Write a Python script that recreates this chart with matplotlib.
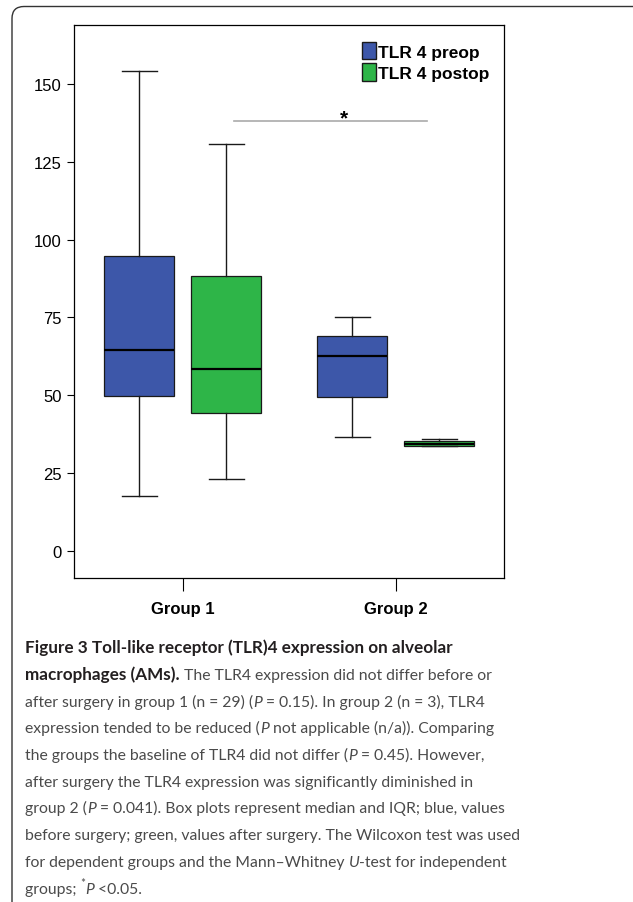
import matplotlib
matplotlib.use('Agg')
import matplotlib.pyplot as plt
from matplotlib.patches import Patch, FancyBboxPatch

# box statistics
groups = ['Group 1', 'Group 2']
preop_med = [64.6, 62.6]
preop_q1 = [49.8, 49.5]
preop_q3 = [94.7, 68.9]
preop_lo = [17.7, 36.4]
preop_hi = [154.1, 75.2]
postop_med = [58.3, 34.2]
postop_q1 = [44.2, 33.6]
postop_q3 = [88.3, 35.1]
postop_lo = [23.1, 33.6]
postop_hi = [130.7, 36.0]
yticks = [0, 25, 50, 75, 100, 125, 150]
sig_x = [1.241, 2.148]
sig_y = 138.2

blue = '#3d57a9'
green = '#2eb548'

caption = [
    [("Figure 3 Toll-like receptor (TLR)4 expression on alveolar", 'b')],
    [("macrophages (AMs).", 'b'), (" The TLR4 expression did not differ before or", 'r')],
    [("after surgery in group 1 (n = 29) (", 'r'), ("P", 'i'), (" = 0.15). In group 2 (n = 3), TLR4", 'r')],
    [("expression tended to be reduced (", 'r'), ("P", 'i'), (" not applicable (n/a)). Comparing", 'r')],
    [("the groups the baseline of TLR4 did not differ (", 'r'), ("P", 'i'), (" = 0.45). However,", 'r')],
    [("after surgery the TLR4 expression was significantly diminished in", 'r')],
    [("group 2 (", 'r'), ("P", 'i'), (" = 0.041). Box plots represent median and IQR; blue, values", 'r')],
    [("before surgery; green, values after surgery. The Wilcoxon test was used", 'r')],
    [("for dependent groups and the Mann\u2013Whitney ", 'r'), ("U", 'i'), ("-test for independent", 'r')],
    [("groups; ", 'r'), ("*", 's'), ("P", 'i'), (" <0.05.", 'r')],
]

plt.rcParams['font.family'] = ['Liberation Sans', 'DejaVu Sans']

W, H = 633, 903
fig = plt.figure(figsize=(W / 100, H / 100), dpi=100)

# rounded frame around figure + caption (runs off right and bottom)
frame = FancyBboxPatch((0.12, -0.5), 8.0, H / 100 - 0.075 + 0.5,
                       boxstyle='round,pad=0,rounding_size=0.12',
                       transform=fig.dpi_scale_trans, fill=False,
                       edgecolor='#333333', linewidth=1.0)
fig.patches.append(frame)

ax = fig.add_axes([74 / W, 1 - 579 / H, 430 / W, 553 / H])

off = 0.204
stats_pre = [dict(med=preop_med[i], q1=preop_q1[i], q3=preop_q3[i],
                  whislo=preop_lo[i], whishi=preop_hi[i], fliers=[])
             for i in range(len(groups))]
stats_post = [dict(med=postop_med[i], q1=postop_q1[i], q3=postop_q3[i],
                   whislo=postop_lo[i], whishi=postop_hi[i], fliers=[])
              for i in range(len(groups))]

common = dict(widths=0.329, capwidths=0.163, patch_artist=True, showfliers=False,
              medianprops=dict(color='black', linewidth=1.6),
              whiskerprops=dict(color='#1a1a1a', linewidth=1.0),
              capprops=dict(color='#1a1a1a', linewidth=1.0))
ax.bxp(stats_pre, positions=[i + 1 - off for i in range(len(groups))],
       boxprops=dict(facecolor=blue, edgecolor='#1a1a1a', linewidth=0.9), **common)
ax.bxp(stats_post, positions=[i + 1 + off for i in range(len(groups))],
       boxprops=dict(facecolor=green, edgecolor='#1a1a1a', linewidth=0.9), **common)

ax.plot(sig_x, [sig_y, sig_y], color='#aaaaaa', linewidth=1.2)
ax.text(1.759, sig_y - 2.0, '*', ha='center', va='bottom', fontsize=15, fontweight='bold')

ax.set_xlim(0.490, 2.508)
ax.set_ylim(-8.8, 169)
ax.set_yticks(yticks)
ax.set_xticks([1, 2])
ax.set_xticklabels(groups, fontweight='bold', fontsize=12)
ax.tick_params(axis='y', length=5, width=0.8, labelsize=12, pad=4)
ax.tick_params(axis='x', length=9.5, width=0.8, pad=7)
for s in ax.spines.values():
    s.set_linewidth(0.9)

handles = [Patch(facecolor=blue, edgecolor='#1a1a1a', label='TLR 4 preop'),
           Patch(facecolor=green, edgecolor='#1a1a1a', label='TLR 4 postop')]
ax.legend(handles=handles, loc='upper right', bbox_to_anchor=(0.99, 0.988),
          frameon=False, prop=dict(weight='bold', size=12.5),
          handlelength=0.8, handleheight=1.15, handletextpad=0.12,
          labelspacing=0.22, borderaxespad=0.2)

# caption, drawn segment by segment
cap_font = 'Lato'
sizes = {'b': 12.35, 'r': 11.3, 'i': 11.3, 's': 8.3}
styles = {
    'b': dict(fontweight='bold', color='#231f20'),
    'r': dict(color='#4a4a4a'),
    'i': dict(style='italic', color='#4a4a4a'),
    's': dict(color='#4a4a4a'),
}
x0 = 25
base0 = 653.3
step = 26.7
for n, line in enumerate(caption):
    yb = H - (base0 + n * step)
    prev = None
    for txt, st in line:
        yy = yb + (7 if st == 's' else 0)
        kw = dict(ha='left', va='baseline', fontsize=sizes[st], family=cap_font,
                  annotation_clip=False, **styles[st])
        if prev is None:
            prev = ax.annotate(txt, xy=(x0, yy), xycoords='figure pixels', **kw)
        else:
            prev = ax.annotate(txt, xy=(1, yy), xycoords=(prev, 'figure pixels'), **kw)

fig.savefig('out.png', dpi=100)
